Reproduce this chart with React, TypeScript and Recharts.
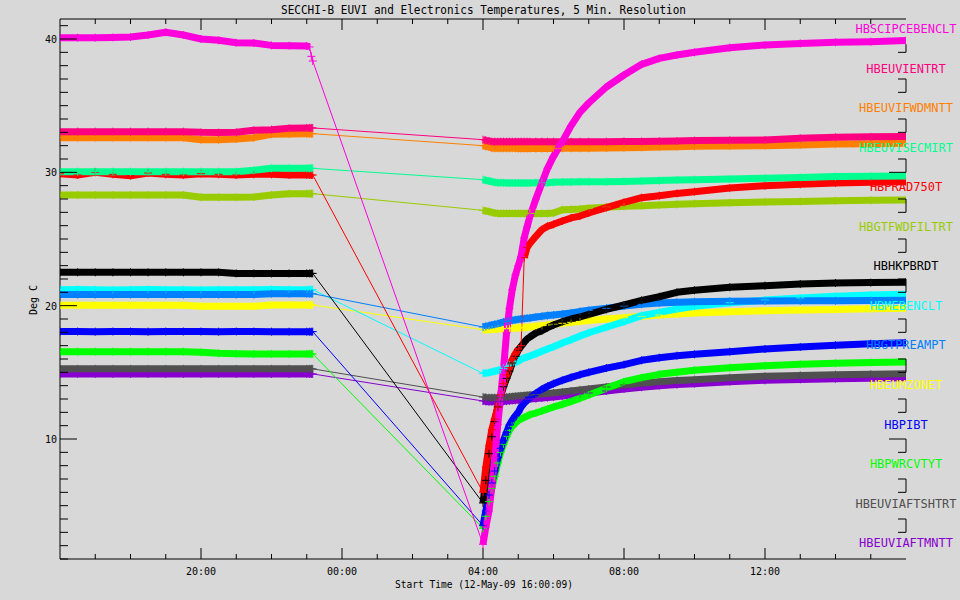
import React from 'react';
import { LineChart, Line, XAxis, YAxis } from 'recharts';

// hours since 12-May-09 16:00; data gap between the two blocks
const hoursBefore = [0, 0.5, 1, 1.5, 2, 2.5, 3, 3.5, 4, 4.5, 5, 5.5, 6, 6.5, 7, 7.08, 7.13, 7.17];
const hoursAfter = [12.0, 12.08, 12.17, 12.25, 12.33, 12.42, 12.5, 12.58, 12.67, 12.75, 12.83, 12.92, 13.0, 13.08, 13.17, 13.25, 13.33, 13.5, 13.67, 13.83, 14.0, 14.25, 14.5, 14.75, 15.0, 15.5, 16.0, 16.5, 17.0, 17.5, 18.0, 19.0, 20.0, 21.0, 22.0, 23.0, 24.0];

const majorHours = [4, 8, 12, 16, 20];
const majorHourLabels = ['20:00', '00:00', '04:00', '08:00', '12:00'];
const majorDegs = [10, 20, 30, 40];

const names = ['HBSCIPCEBENCLT', 'HBEUVIENTRT', 'HBEUVIFWDMNTT', 'HBEUVISECMIRT', 'HBPRAD750T', 'HBGTFWDFILTRT', 'HBHKPBRDT', 'HBMEBENCLT', 'HBGTPREAMPT', 'HBEUMZONET', 'HBPIBT', 'HBPWRCVTYT', 'HBEUVIAFTSHTRT', 'HBEUVIAFTMNTT'];
const colors = ['#ff00dc', '#ff0080', '#ff8000', '#00ff90', '#ff0000', '#99cc00', '#000000', '#00ffff', '#0080ff', '#ffff00', '#0000ff', '#00ff00', '#505050', '#8800d0'];

const sciBefore = [40.1, 40.1, 40.1, 40.12, 40.15, 40.3, 40.5, 40.3, 40.0, 39.9, 39.72, 39.7, 39.52, 39.5, 39.48, 39.4, 38.7, 38.35];
const sciAfter = [2.1, 3.4, 4.6, 6.4, 8.6, 11.1, 13.2, 15.2, 18.0, 19.8, 21.2, 22.3, 23.0, 23.7, 25.1, 25.9, 26.7, 28.0, 29.2, 30.3, 31.2, 32.3, 33.5, 34.5, 35.2, 36.4, 37.3, 38.1, 38.55, 38.8, 39.0, 39.35, 39.55, 39.67, 39.75, 39.8, 39.88];
const entBefore = [33.05, 33.05, 33.05, 33.05, 33.05, 33.05, 33.05, 33.05, 33.0, 32.98, 33.0, 33.15, 33.2, 33.3, 33.33, 33.33, 33.33, 33.33];
const entAfter = [32.45, 32.4, 32.35, 32.3, 32.3, 32.3, 32.3, 32.3, 32.3, 32.3, 32.3, 32.3, 32.3, 32.3, 32.3, 32.3, 32.3, 32.3, 32.3, 32.3, 32.3, 32.3, 32.3, 32.3, 32.3, 32.3, 32.32, 32.32, 32.33, 32.35, 32.38, 32.4, 32.42, 32.55, 32.63, 32.66, 32.68];
const fwdBefore = [32.6, 32.6, 32.6, 32.6, 32.6, 32.6, 32.6, 32.6, 32.45, 32.45, 32.5, 32.6, 32.85, 32.87, 32.9, 32.9, 32.9, 32.9];
const fwdAfter = [32.0, 31.95, 31.9, 31.82, 31.8, 31.8, 31.8, 31.8, 31.8, 31.8, 31.8, 31.8, 31.78, 31.78, 31.78, 31.78, 31.78, 31.78, 31.78, 31.78, 31.78, 31.8, 31.8, 31.8, 31.8, 31.82, 31.85, 31.87, 31.9, 31.92, 31.95, 31.98, 32.0, 32.05, 32.12, 32.15, 32.18];
const secBefore = [30.05, 30.05, 30.05, 30.05, 30.05, 30.05, 30.05, 30.05, 30.05, 30.05, 30.05, 30.15, 30.3, 30.3, 30.3, 30.3, 30.3, 30.3];
const secAfter = [29.45, 29.4, 29.35, 29.3, 29.25, 29.22, 29.22, 29.22, 29.2, 29.2, 29.2, 29.2, 29.2, 29.2, 29.2, 29.2, 29.2, 29.22, 29.22, 29.22, 29.25, 29.27, 29.28, 29.3, 29.3, 29.3, 29.32, 29.35, 29.38, 29.42, 29.45, 29.5, 29.55, 29.62, 29.68, 29.7, 29.72];
const radBefore = [29.9, 29.8, 30.0, 29.85, 29.75, 29.95, 29.85, 29.8, 29.9, 29.85, 29.8, 29.85, 29.85, 29.8, 29.82, 29.8, 29.8, 29.8];
const radAfter = [6.0, 7.9, 9.5, 10.7, 11.5, 12.4, 13.3, 14.17, 14.8, 15.35, 15.95, 16.4, 16.75, 17.0, 23.6, 24.35, 24.67, 25.2, 25.7, 25.95, 26.1, 26.35, 26.58, 26.72, 26.95, 27.35, 27.75, 28.1, 28.25, 28.42, 28.55, 28.82, 29.0, 29.1, 29.2, 29.26, 29.3];
const filBefore = [28.3, 28.3, 28.3, 28.3, 28.3, 28.3, 28.3, 28.3, 28.13, 28.13, 28.13, 28.15, 28.3, 28.4, 28.4, 28.4, 28.4, 28.4];
const filAfter = [27.15, 27.1, 27.05, 27.0, 26.95, 26.92, 26.92, 26.92, 26.92, 26.92, 26.92, 26.92, 26.92, 26.92, 26.92, 26.92, 26.92, 26.92, 26.92, 26.92, 26.95, 27.2, 27.22, 27.25, 27.3, 27.38, 27.45, 27.5, 27.55, 27.6, 27.65, 27.72, 27.78, 27.82, 27.87, 27.9, 27.92];
const hkpBefore = [22.5, 22.5, 22.5, 22.5, 22.5, 22.5, 22.5, 22.5, 22.5, 22.5, 22.42, 22.42, 22.42, 22.42, 22.42, 22.42, 22.42, 22.42];
const hkpAfter = [5.2, 6.9, 8.9, 10.17, 11.3, 12.4, 13.2, 13.92, 14.55, 15.1, 15.7, 16.2, 16.67, 16.95, 17.25, 17.5, 17.65, 17.95, 18.12, 18.35, 18.55, 18.8, 19.0, 19.15, 19.35, 19.72, 20.05, 20.4, 20.67, 21.0, 21.15, 21.38, 21.5, 21.62, 21.7, 21.73, 21.75];
const mebBefore = [21.2, 21.22, 21.2, 21.18, 21.2, 21.22, 21.2, 21.2, 21.18, 21.2, 21.2, 21.2, 21.22, 21.2, 21.2, 21.2, 21.2, 21.2];
const mebAfter = [14.92, 14.95, 14.98, 15.03, 15.08, 15.14, 15.22, 15.3, 15.42, 15.52, 15.63, 15.75, 15.85, 15.97, 16.08, 16.15, 16.22, 16.4, 16.58, 16.75, 16.92, 17.2, 17.45, 17.72, 17.97, 18.38, 18.8, 19.25, 19.5, 19.75, 19.95, 20.22, 20.42, 20.58, 20.7, 20.8, 20.85];
const preBefore = [20.83, 20.83, 20.83, 20.83, 20.83, 20.83, 20.83, 20.83, 20.83, 20.83, 20.83, 20.83, 20.9, 20.9, 20.9, 20.9, 20.9, 20.9];
const preAfter = [18.4, 18.45, 18.5, 18.55, 18.6, 18.65, 18.7, 18.78, 18.82, 18.86, 18.9, 18.94, 18.97, 19.0, 19.03, 19.06, 19.08, 19.15, 19.2, 19.26, 19.3, 19.37, 19.46, 19.56, 19.65, 19.8, 19.98, 20.1, 20.2, 20.26, 20.3, 20.33, 20.35, 20.36, 20.37, 20.38, 20.4];
const zonBefore = [20.03, 20.03, 20.03, 20.03, 20.03, 20.03, 20.03, 20.03, 19.95, 19.95, 19.95, 19.95, 20.05, 20.05, 20.05, 20.05, 20.05, 20.05];
const zonAfter = [18.2, 18.2, 18.22, 18.22, 18.24, 18.25, 18.26, 18.27, 18.28, 18.3, 18.31, 18.32, 18.34, 18.35, 18.37, 18.38, 18.4, 18.45, 18.5, 18.55, 18.6, 18.68, 18.75, 18.82, 18.88, 19.0, 19.1, 19.2, 19.3, 19.38, 19.45, 19.55, 19.62, 19.68, 19.72, 19.77, 19.8];
const pibBefore = [18.06, 18.06, 18.05, 18.06, 18.06, 18.05, 18.06, 18.06, 18.06, 18.05, 18.06, 18.06, 18.05, 18.05, 18.05, 18.05, 18.05, 18.05];
const pibAfter = [3.5, 4.6, 5.8, 6.7, 7.6, 8.6, 9.3, 9.9, 10.5, 11.05, 11.4, 11.75, 12.0, 12.4, 12.7, 12.9, 13.1, 13.42, 13.72, 13.95, 14.15, 14.4, 14.62, 14.82, 15.0, 15.32, 15.58, 15.9, 16.1, 16.25, 16.35, 16.55, 16.75, 16.9, 17.03, 17.15, 17.22];
const pwrBefore = [16.55, 16.55, 16.55, 16.55, 16.55, 16.55, 16.55, 16.55, 16.5, 16.43, 16.4, 16.38, 16.38, 16.38, 16.38, 16.38, 16.38, 16.38];
const pwrAfter = [3.3, 4.2, 5.3, 6.3, 7.2, 8.2, 9.0, 9.6, 10.2, 10.65, 10.95, 11.2, 11.4, 11.5, 11.62, 11.72, 11.82, 11.95, 12.1, 12.25, 12.4, 12.6, 12.82, 13.05, 13.3, 13.8, 14.3, 14.6, 14.85, 15.0, 15.15, 15.35, 15.5, 15.6, 15.68, 15.74, 15.78];
const shtBefore = [15.26, 15.26, 15.26, 15.26, 15.26, 15.26, 15.26, 15.26, 15.26, 15.26, 15.26, 15.26, 15.26, 15.26, 15.26, 15.26, 15.26, 15.26];
const shtAfter = [13.15, 13.12, 13.1, 13.1, 13.1, 13.1, 13.1, 13.12, 13.14, 13.16, 13.18, 13.2, 13.22, 13.24, 13.26, 13.28, 13.3, 13.33, 13.37, 13.41, 13.45, 13.52, 13.6, 13.68, 13.75, 13.9, 14.05, 14.18, 14.3, 14.38, 14.45, 14.6, 14.7, 14.77, 14.82, 14.86, 14.9];
const mntBefore = [14.88, 14.88, 14.88, 14.88, 14.88, 14.88, 14.88, 14.88, 14.88, 14.88, 14.88, 14.88, 14.88, 14.88, 14.88, 14.88, 14.88, 14.88];
const mntAfter = [12.85, 12.82, 12.8, 12.8, 12.8, 12.8, 12.8, 12.82, 12.84, 12.86, 12.88, 12.9, 12.92, 12.94, 12.96, 12.98, 13.0, 13.03, 13.07, 13.11, 13.15, 13.22, 13.3, 13.38, 13.45, 13.6, 13.75, 13.88, 14.0, 14.08, 14.15, 14.3, 14.4, 14.47, 14.52, 14.56, 14.6];

const before = [sciBefore, entBefore, fwdBefore, secBefore, radBefore, filBefore, hkpBefore, mebBefore, preBefore, zonBefore, pibBefore, pwrBefore, shtBefore, mntBefore];
const after = [sciAfter, entAfter, fwdAfter, secAfter, radAfter, filAfter, hkpAfter, mebAfter, preAfter, zonAfter, pibAfter, pwrAfter, shtAfter, mntAfter];

// plotting order (later on top)
const drawOrder = [13, 12, 11, 10, 9, 7, 8, 5, 2, 1, 6, 4, 3, 0];
// stretches drawn as plain line + symbols (no dense band)
const sparse: Record<number, [number, number][]> = { 0: [[7.1, 11.9]], 4: [[13.05, 13.1]] };

const W = 960, H = 600;
const LEFT = 60, RIGHT = 54, TOP = 19, BOTTOM = 41;
const Y_MIN = 1, Y_MAX = 41.5;
const PX_PER_DEG = (H - TOP - BOTTOM) / (Y_MAX - Y_MIN);
const FONT = '"DejaVu Sans Mono", monospace';
const BG = '#d8d8d8';

const inSparse = (i: number, t: number) => (sparse[i] || []).some(([a, b]) => t >= a && t <= b);

const rows: any[] = [];
hoursBefore.forEach((t, k) => {
  const r: any = { t };
  names.forEach((_, i) => { r['s' + i] = before[i][k]; r['b' + i] = inSparse(i, t) ? null : before[i][k]; });
  rows.push(r);
});
rows.push({ t: (hoursBefore[hoursBefore.length - 1] + hoursAfter[0]) / 2 });
hoursAfter.forEach((t, k) => {
  const r: any = { t };
  names.forEach((_, i) => { r['s' + i] = after[i][k]; r['b' + i] = inSparse(i, t) ? null : after[i][k]; });
  rows.push(r);
});

const hourTicks = Array.from({ length: 25 }, (_, i) => i);
const degTicks = Array.from({ length: 41 }, (_, i) => i + 1);
const rightSpans = [37, 34, 31, 28, 25, 22, 19, 16, 13, 10, 7, 4];

const plusDot = (color: string) => (props: any) => {
  const { cx, cy, index } = props;
  if (cx == null || cy == null || Number.isNaN(cy)) return <g key={'d' + index} />;
  return <path key={'d' + index} d={`M${cx - 4},${cy}H${cx + 4}M${cx},${cy - 4}V${cy + 4}`} stroke={color} strokeWidth={1} fill="none" />;
};

const BottomTick = (p: any) => {
  const v = p.payload.value;
  if (v <= 0 || v >= 24) return <g />;
  const i = majorHours.indexOf(v);
  return (
    <g>
      <line x1={p.x} x2={p.x} y1={p.y} y2={p.y - (i >= 0 ? 11 : 5)} stroke="#000" />
      {i >= 0 && <text x={p.x} y={p.y + 16} textAnchor="middle" fontSize={10} fontFamily={FONT} fill="#000">{majorHourLabels[i]}</text>}
    </g>
  );
};

const TopTick = (p: any) => {
  const v = p.payload.value;
  if (v <= 0 || v >= 24) return <g />;
  const len = majorHours.includes(v) ? 11 : 5;
  return <line x1={p.x} x2={p.x} y1={p.y} y2={p.y + len} stroke="#000" />;
};

const LeftTick = (p: any) => {
  const v = p.payload.value;
  const major = majorDegs.includes(v);
  return (
    <g>
      <line x1={p.x} x2={p.x + (major ? 17 : 8)} y1={p.y} y2={p.y} stroke="#000" />
      {major && <text x={p.x - 3} y={p.y + 4} textAnchor="end" fontSize={10} fontFamily={FONT} fill="#000">{v}</text>}
    </g>
  );
};

// right axis is partly covered by the channel names, only short pieces remain
const RightTick = (p: any) => {
  const v = p.payload.value;
  const len = majorDegs.includes(v) ? 17 : 8;
  const parts: any[] = [];
  if (rightSpans.includes(v) || rightSpans.includes(v + 1) || v === 39) {
    parts.push(<line key="t" x1={p.x} x2={p.x - len} y1={p.y} y2={p.y} stroke="#000" />);
  }
  if (rightSpans.includes(v)) {
    parts.push(<line key="s" x1={p.x} x2={p.x} y1={p.y} y2={p.y + PX_PER_DEG} stroke="#000" />);
  }
  if (v === 39) {
    parts.push(<line key="s" x1={p.x} x2={p.x} y1={p.y - 8} y2={p.y} stroke="#000" />);
  }
  return <g>{parts}</g>;
};

export default function App() {
  return (
    <div style={{ position: 'absolute', left: 0, top: 0, width: W, height: H, background: BG }}>
      <LineChart width={W} height={H} data={rows} margin={{ top: 0, right: 0, bottom: 0, left: 0 }}>
        <XAxis xAxisId="b" type="number" dataKey="t" domain={[0, 24]} ticks={hourTicks} interval={0} allowDataOverflow
          orientation="bottom" height={BOTTOM} tickSize={0} tickMargin={0} tickLine={false} axisLine={{ stroke: '#000' }} tick={BottomTick} />
        <XAxis xAxisId="t" type="number" dataKey="t" domain={[0, 24]} ticks={hourTicks} interval={0} allowDataOverflow
          orientation="top" height={TOP} tickSize={0} tickMargin={0} tickLine={false} axisLine={{ stroke: '#000' }} tick={TopTick} />
        <YAxis yAxisId="l" type="number" domain={[Y_MIN, Y_MAX]} ticks={degTicks} interval={0} allowDataOverflow
          orientation="left" width={LEFT} tickSize={0} tickMargin={0} tickLine={false} axisLine={{ stroke: '#000' }} tick={LeftTick} />
        <YAxis yAxisId="r" type="number" domain={[Y_MIN, Y_MAX]} ticks={degTicks} interval={0} allowDataOverflow
          orientation="right" width={RIGHT} tickSize={0} tickMargin={0} tickLine={false} axisLine={false} tick={RightTick} />
        {drawOrder.map((i) => [
          <Line key={'b' + i} xAxisId="b" yAxisId="l" type="linear" dataKey={'b' + i} stroke={colors[i]} strokeWidth={7}
            strokeLinejoin="round" dot={false} activeDot={false} connectNulls={false} isAnimationActive={false} />,
          <Line key={'s' + i} xAxisId="b" yAxisId="l" type="linear" dataKey={'s' + i} stroke={colors[i]} strokeWidth={1}
            dot={plusDot(colors[i])} activeDot={false} connectNulls isAnimationActive={false} />,
        ])}
      </LineChart>
      <svg width={W} height={H} style={{ position: 'absolute', left: 0, top: 0, pointerEvents: 'none' }}>
        <text x={281} y={14} fontSize={12} fontFamily={FONT} textLength={405} lengthAdjust="spacingAndGlyphs" fill="#000">
          SECCHI-B EUVI and Electronics Temperatures, 5 Min. Resolution
        </text>
        <text x={395} y={588} fontSize={10} fontFamily={FONT} textLength={178} lengthAdjust="spacingAndGlyphs" fill="#000">
          Start Time (12-May-09 16:00:09)
        </text>
        <text transform="translate(37,300) rotate(-90)" textAnchor="middle" fontSize={10} fontFamily={FONT} fill="#000">Deg C</text>
        {names.map((n, i) => (
          <text key={n} x={W - RIGHT} y={33 + i * 39.55} textAnchor="middle" fontSize={12} fontFamily={FONT} fill={colors[i]}>{n}</text>
        ))}
      </svg>
    </div>
  );
}
